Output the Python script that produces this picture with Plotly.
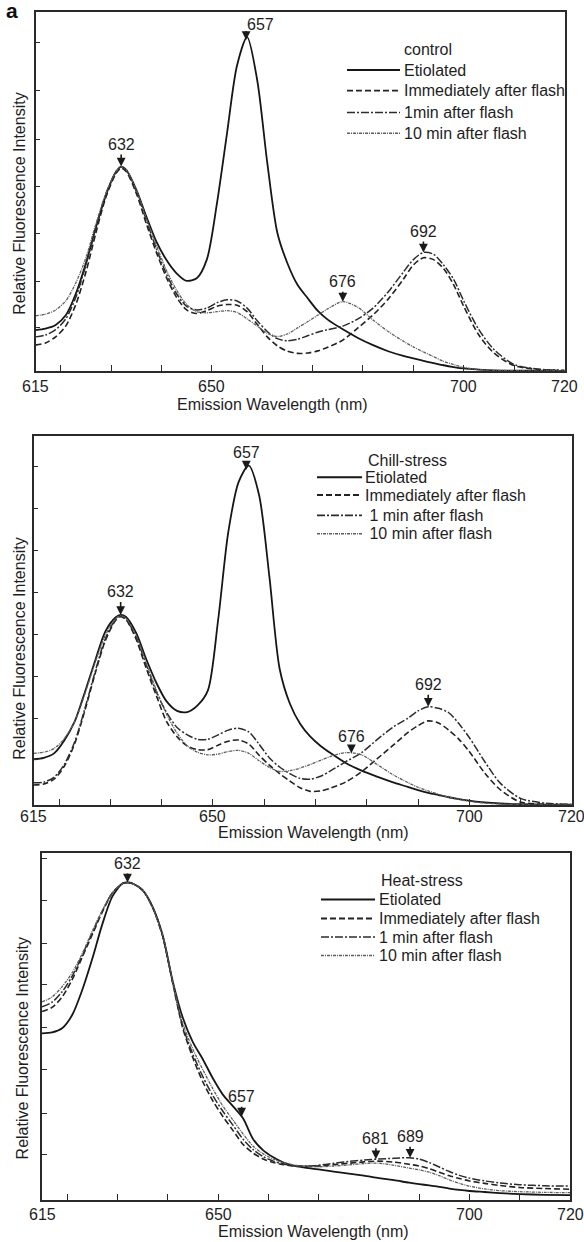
import numpy as np
import plotly.graph_objects as go

W, H = 584, 1242

# ---------------- data ----------------
WL = [615, 617, 619, 621, 623, 625, 627, 629, 631, 632, 633, 635, 637, 639, 641, 643,
      645, 647, 649, 651, 653, 655, 657, 659, 661, 663, 665, 667, 669, 671, 673, 676,
      679, 682, 685, 688, 690, 692, 694, 696, 698, 700, 703, 706, 710, 715, 720]

SERIES_NAMES = ["Etiolated", "Immediately after flash", "1 min after flash", "10 min after flash"]

ctrl_etiolated = [11.4, 11.8, 12.8, 15.5, 21.5, 30, 40, 49, 55.5, 56.9, 56, 50.5, 43, 36, 30.9, 27.2,
                  25.1, 25.8, 31, 46.5, 66, 85, 92.9, 81, 58, 38.5, 30, 24, 20.3, 16.8, 14.3, 11.6,
                  9.2, 7.2, 5.5, 4.2, 3.5, 2.8, 2.2, 1.6, 1.1, 0.7, 0.4, 0.2, 0.1, 0.1, 0]
ctrl_immediate = [7.2, 7.8, 9.5, 12.5, 18.5, 27.5, 38.5, 48.5, 55, 56.5, 55.5, 49.5, 41, 33, 26, 20.5,
                  17, 16, 16.8, 18, 18.5, 18.3, 16.5, 13, 9.5, 7, 5.5, 4.9, 5, 5.6, 6.6, 8.6,
                  12, 15.6, 20, 25.5, 29.5, 31.5, 31, 28.5, 24, 18, 10, 5, 1.5, 0.4, 0.1]
ctrl_1min = [9.5, 10, 11.5, 14.5, 20.5, 29.5, 40, 49.5, 55.5, 56.8, 56, 50, 42, 34, 27, 21.5,
             18, 17, 17.5, 19, 19.8, 19.5, 17.5, 14, 11, 9, 8.4, 8.8, 9.8, 10.8, 11.5, 12.5,
             14.5, 17.5, 22, 27.5, 31, 33, 32.5, 29.5, 25.5, 19.5, 11.5, 6, 1.8, 0.5, 0.2]
ctrl_10min = [15.4, 15.8, 17, 19.5, 24.5, 31.5, 41, 49.5, 55.5, 56.8, 56, 50.5, 42.5, 35, 28, 22.5,
              18.5, 16.5, 16.2, 16.5, 16.8, 16.3, 14.5, 12.5, 10.5, 9.6, 10.3, 12, 13.7, 15.5, 17.3, 19.3,
              17.7, 14.2, 11, 8.3, 6.7, 5.3, 4, 2.7, 1.8, 1, 0.4, 0.2, 0.1, 0, 0]

chill_etiolated = [12.4, 12.8, 14, 17.5, 22.5, 30.5, 39, 47, 50.8, 51.5, 51, 46.7, 39.5, 33, 28, 25.5,
                   25.2, 27, 31, 50, 74, 87.5, 92, 84, 62, 37, 27.5, 22, 18.5, 16, 14, 11.3,
                   9.3, 7.7, 6.2, 4.9, 4, 3.3, 2.7, 2.1, 1.6, 1.2, 0.7, 0.4, 0.2, 0.1, 0]
chill_immediate = [5.4, 5.7, 7, 10.5, 16.5, 25.5, 35.5, 44.5, 50, 51, 50.3, 45, 37, 29.5, 22.5, 18.5,
                   16, 15, 15, 16.2, 17.3, 17.6, 16.5, 13.5, 10.8, 8.5, 6.5, 4.7, 3.7, 3.8, 4.6, 6.3,
                   9, 12.5, 16, 19.6, 21.5, 22.8, 22.2, 20.3, 17.8, 14.5, 8.7, 4.2, 0.8, 0.2, 0.1]
chill_1min = [6, 6.2, 7.5, 11, 17, 26, 36, 45, 50.3, 51.2, 50.5, 45.5, 38, 30.5, 25, 21,
              19, 17.8, 17.8, 19, 20.3, 20.8, 19.8, 16.5, 12.8, 10.3, 8.5, 7.2, 7, 7.8, 9.3, 11.8,
              14.2, 17.7, 21, 23.5, 25.5, 26.6, 26.2, 25, 22, 18.3, 11.8, 6, 1.8, 0.5, 0.2]
chill_10min = [14, 14.3, 15.3, 18, 22.5, 30, 38.5, 46, 50.5, 51.3, 50.7, 46, 38.5, 31, 24.5, 19.5,
               16, 14.3, 13.6, 13.8, 14.5, 14.8, 14, 12, 10.2, 9.1, 9.3, 10, 11, 12.1, 13.2, 14.2,
               13.6, 11, 8.3, 6.1, 4.8, 3.8, 2.9, 2.1, 1.5, 1, 0.5, 0.3, 0.1, 0, 0]

heat_etiolated = [48, 48.3, 49.5, 53.3, 60.5, 69.5, 79.5, 87.5, 91.2, 91.5, 91.2, 89.3, 84.5, 76.3, 63, 52.5,
                  45.5, 40.5, 35, 30.3, 27, 23.5, 17.5, 14.3, 12.3, 10.8, 9.9, 9.4, 9, 8.6, 8.2, 7.6,
                  7, 6.3, 5.7, 5, 4.6, 4.2, 3.8, 3.3, 2.9, 2.6, 2.3, 2, 1.7, 1.5, 1.4]
heat_immediate = [54.3, 55.5, 58.5, 63.5, 70, 76.5, 83, 88.5, 91.2, 91.5, 91.2, 89.3, 84.3, 76, 62.5, 49.5,
                  41, 34, 28.5, 24, 20, 16, 13.5, 11.8, 10.8, 10.2, 9.8, 9.7, 9.7, 9.9, 10.2, 10.6,
                  11, 11.2, 10.9, 10.3, 9.8, 9, 8, 7, 6.2, 5.5, 4.8, 4.2, 3.6, 3.3, 3.1]
heat_1min = [55.7, 57, 60, 64.5, 70.5, 77, 83.3, 88.5, 91.2, 91.5, 91.2, 89.3, 84.3, 76, 62.5, 50,
             42, 35.5, 30, 25.5, 21.5, 17.5, 14.5, 12.5, 11.2, 10.4, 9.9, 9.8, 9.9, 10.2, 10.6, 11.1,
             11.5, 11.8, 12, 12.2, 11.8, 10.8, 9.5, 8.2, 7.1, 6.3, 5.5, 4.9, 4.4, 4.1, 4]
heat_10min = [57.1, 58.5, 61.5, 65.5, 71, 77.5, 83.5, 88.5, 91.2, 91.5, 91.2, 89.3, 84.3, 76.2, 62.8, 51,
              43.5, 37.5, 32, 27, 23, 19, 15.5, 13.3, 11.8, 10.8, 10.1, 9.8, 9.6, 9.6, 9.8, 10.1,
              10.5, 10.6, 10, 9.2, 8.7, 8, 7, 5.8, 4.8, 4, 3.2, 2.7, 2.4, 2.2, 2.1]

# peak labels: text, wavelength where the arrow points, index of series it points at
ctrl_peaks = [("632", 632, 0), ("657", 656.8, 0), ("676", 676, 3), ("692", 692, 2)]
chill_peaks = [("632", 632, 0), ("657", 656.5, 0), ("676", 677, 3), ("692", 692, 2)]
heat_peaks = [("632", 632, 0), ("657", 654.7, 0), ("681", 681.4, 2), ("689", 688.2, 2)]

X_TICK_LABELS = [615, 650, 700, 720]
X_MINOR_TICKS = [620, 630, 640, 660, 670, 680, 690, 710]

# ---------------- styling ----------------
FONT = "Liberation Sans, Arial, sans-serif"
INK = "#1e1e1e"
STYLES = [
    dict(color="#161616", width=1.8, dash="solid"),
    dict(color="#222222", width=1.6, dash="6px,3px"),
    dict(color="#2c2c2c", width=1.5, dash="8px,2px,2px,2px"),
    dict(color="#5e5e5e", width=1.3, dash="3px,1px,1px,1px"),
]


def px2paper_x(px):
    return px / W


def py2paper_y(py):
    return 1 - py / H


panels = [
    dict(name="control", data=[ctrl_etiolated, ctrl_immediate, ctrl_1min, ctrl_10min],
         labels=["Etiolated", "Immediately after flash", "1min after flash", "10 min after flash"],
         peaks=ctrl_peaks, peak_ay=[-22, None, -20, -21],
         box=(35.5, 564.5, 11.7, 371), tick_offset=15.5,
         yticks=[12.0, 25.0, 38.3, 51.3, 64.5, 78.0, 91.4],
         leg_title=(402, 49.3), leg_rows=[70, 90.7, 112.5, 133.3], leg_sample=(347, 400), leg_text=402,
         xtitle=(272, 404.5), ytitle=(18.7, 204)),
    dict(name="Chill-stress", data=[chill_etiolated, chill_immediate, chill_1min, chill_10min],
         labels=["Etiolated", "Immediately after flash", " 1 min after flash", " 10 min after flash"],
         peaks=chill_peaks, peak_ay=[-23, -17, -17, -22],
         box=(33.5, 571.8, 436, 805), tick_offset=11,
         yticks=[12.2, 23.5, 34.8, 46.3, 57.5, 69.1, 80.4, 91.7],
         leg_title=(365.7, 460), leg_rows=[477.3, 495, 515.3, 533.7], leg_sample=(317, 362), leg_text=362.5,
         xtitle=(313, 832), ytitle=(18.7, 649)),
    dict(name="Heat-stress", data=[heat_etiolated, heat_immediate, heat_1min, heat_10min],
         labels=["Etiolated", "Immediately after flash", "1 min after flash", "10 min after flash"],
         peaks=heat_peaks, peak_ay=[-19, -20, -21, -21],
         box=(42, 570, 853, 1200), tick_offset=14,
         yticks=[13.0, 25.0, 37.7, 49.8, 62.0, 74.0, 86.3, 98.5],
         leg_title=(378.7, 880.7), leg_rows=[899.5, 918.5, 937, 955.5], leg_sample=(321, 375), leg_text=377,
         xtitle=(313, 1231), ytitle=(22.4, 1048)),
]

fig = go.Figure()
shapes = []
annotations = []
layout_axes = {}
label_font = dict(family=FONT, size=16, color=INK)

for i, p in enumerate(panels):
    k = "" if i == 0 else str(i + 1)
    xref, yref = "x" + k, "y" + k
    x0, x1, ytop, ybot = p["box"]
    for j, (vals, st) in enumerate(zip(p["data"], STYLES)):
        fig.add_trace(go.Scatter(
            x=WL, y=vals, mode="lines", name=SERIES_NAMES[j], showlegend=False,
            line=dict(color=st["color"], width=st["width"], dash=st["dash"], shape="spline", smoothing=0.8),
            xaxis=xref, yaxis=yref, hoverinfo="skip"))

    axis_common = dict(showline=True, linecolor="#2a2a2a", linewidth=1.7, mirror=True,
                       showgrid=False, zeroline=False, ticks="inside", tickcolor="#2a2a2a")
    layout_axes["xaxis" + k] = dict(
        axis_common, domain=[px2paper_x(x0), px2paper_x(x1)], range=[615, 720],
        anchor=yref, tickmode="array", tickvals=X_TICK_LABELS, showticklabels=False,
        ticklen=6, tickwidth=1.2,
        minor=dict(tickmode="array", tickvals=X_MINOR_TICKS, ticks="inside", ticklen=6,
                   tickwidth=1.2, tickcolor="#2a2a2a", showgrid=False))
    layout_axes["yaxis" + k] = dict(
        axis_common, domain=[py2paper_y(ybot), py2paper_y(ytop)], range=[0, 100],
        anchor=xref, tickmode="array", tickvals=p["yticks"], showticklabels=False,
        ticklen=5, tickwidth=1.2)

    # x tick labels, centred under their ticks
    for v in X_TICK_LABELS:
        annotations.append(dict(x=v, xref=xref, y=py2paper_y(ybot + p["tick_offset"]), yref="paper",
                                text=str(v), showarrow=False, xanchor="center", yanchor="middle",
                                font=label_font))

    # peak labels with arrows
    for (txt, wl, si), ay in zip(p["peaks"], p["peak_ay"]):
        yv = float(np.interp(wl, WL, p["data"][si]))
        if ay is None:
            # vertical arrow with the label set off to the right
            annotations.append(dict(
                x=wl, y=yv, xref=xref, yref=yref, text=" ", showarrow=True,
                arrowhead=2, arrowsize=1.1, arrowwidth=1.6, arrowcolor="#1a1a1a",
                ax=0, ay=-19, standoff=0, font=label_font))
            annotations.append(dict(
                x=wl, y=yv, xref=xref, yref=yref, text=txt, showarrow=False,
                xshift=14, yshift=16, font=label_font))
        else:
            annotations.append(dict(
                x=wl, y=yv, xref=xref, yref=yref, text=txt, showarrow=True,
                arrowhead=2, arrowsize=1.1, arrowwidth=1.6, arrowcolor="#1a1a1a",
                ax=0, ay=ay, standoff=0, font=label_font))

    # legend drawn as line samples and texts
    tx, ty = p["leg_title"]
    annotations.append(dict(x=px2paper_x(tx), y=py2paper_y(ty), xref="paper", yref="paper",
                            text=p["name"], showarrow=False, xanchor="left", yanchor="middle",
                            font=label_font))
    sx0, sx1 = p["leg_sample"]
    for lbl, row, st in zip(p["labels"], p["leg_rows"], STYLES):
        shapes.append(dict(type="line", xref="paper", yref="paper",
                           x0=px2paper_x(sx0), x1=px2paper_x(sx1),
                           y0=py2paper_y(row), y1=py2paper_y(row),
                           line=dict(color=st["color"], width=st["width"] + 0.2, dash=st["dash"])))
        annotations.append(dict(x=px2paper_x(p["leg_text"]), y=py2paper_y(row), xref="paper", yref="paper",
                                text=lbl, showarrow=False, xanchor="left", yanchor="middle",
                                font=label_font))

    # axis titles
    xt, yt = p["xtitle"]
    annotations.append(dict(x=px2paper_x(xt), y=py2paper_y(yt), xref="paper", yref="paper",
                            text="Emission Wavelength (nm)", showarrow=False,
                            xanchor="center", yanchor="middle", font=label_font))
    yx, yy = p["ytitle"]
    annotations.append(dict(x=px2paper_x(yx), y=py2paper_y(yy), xref="paper", yref="paper",
                            text="Relative Fluorescence Intensity", showarrow=False, textangle=-90,
                            xanchor="center", yanchor="middle", font=label_font))

annotations.append(dict(x=px2paper_x(12), y=py2paper_y(10), xref="paper", yref="paper",
                        text="<b>a</b>", showarrow=False, xanchor="center", yanchor="middle",
                        font=dict(family=FONT, size=21, color="#111111")))

fig.update_layout(
    width=W, height=H, margin=dict(l=0, r=0, t=0, b=0),
    paper_bgcolor="white", plot_bgcolor="white",
    showlegend=False, shapes=shapes, annotations=annotations,
    font=dict(family=FONT, size=16, color=INK),
    **layout_axes)

fig.write_html("out.html", config={"displayModeBar": False},
               post_script="document.body.style.margin='0px';")
